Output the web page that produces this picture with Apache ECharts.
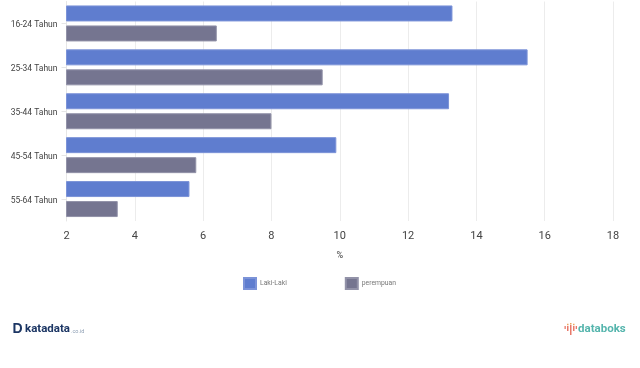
<!DOCTYPE html>
<html><head><meta charset="utf-8">
<style>html,body{margin:0;padding:0;background:#fff}#c{width:640px;height:368px}</style>
<script src="https://cdn.jsdelivr.net/npm/echarts@6/dist/echarts.min.js"></script>
</head><body><div id="c"></div>
<script>
const categories = ['16-24 Tahun','25-34 Tahun','35-44 Tahun','45-54 Tahun','55-64 Tahun'];
const lakiLaki = [13.3,15.5,13.2,9.9,5.6];
const perempuan = [6.4,9.5,8.0,5.8,3.5];
const xTicks = {min:2,max:18,interval:2};
const chart = echarts.init(document.getElementById('c'),null,{renderer:'canvas'});
const blue='#5f7dcf', grey='#757590';
const coral='#e8796a', amber='#eda65f';
chart.setOption({
  animation:false,
  textStyle:{fontFamily:'Roboto'},
  grid:{left:66.5,right:27,top:1.5,bottom:147,containLabel:false},
  legend:{left:243,top:277,padding:0,itemWidth:12,itemHeight:11,itemGap:58,icon:'rect',
    textStyle:{fontFamily:'Roboto',fontSize:6.8,color:'#777',padding:[0,0,0,-1]},
    data:[{name:'Laki-Laki'},{name:'perempuan'}]},
  xAxis:{type:'value',min:xTicks.min,max:xTicks.max,interval:xTicks.interval,
    name:'%',nameLocation:'middle',nameGap:30,nameTextStyle:{fontFamily:'Roboto',fontSize:9,fontWeight:500,color:'#555'},
    axisLine:{show:false},axisTick:{show:false},
    axisLabel:{fontFamily:'Roboto',fontSize:11,color:'#444',margin:10},
    splitLine:{show:true,lineStyle:{color:'#ececec',width:1}}},
  yAxis:{type:'category',inverse:true,data:categories,
    axisLine:{show:true,lineStyle:{color:'#e6e6e6'}},
    axisTick:{show:true,length:5,alignWithLabel:true,lineStyle:{color:'#e6e6e6'}},
    axisLabel:{fontFamily:'Roboto',fontSize:8.5,color:'#444',margin:9,verticalAlign:'top',lineHeight:3}},
  series:[
    {name:'Laki-Laki',type:'bar',data:lakiLaki,barWidth:16,barGap:'25%',
     itemStyle:{color:blue,borderColor:'#7c93d8',borderWidth:1,opacity:1}},
    {name:'perempuan',type:'bar',data:perempuan,barWidth:16,
     itemStyle:{color:grey,borderColor:'#9292a8',borderWidth:1,opacity:1}}
  ],
  graphic:[
    {type:'text',left:12.5,top:322,style:{text:'D',font:'900 14px "Liberation Sans"',fill:'#1c3664'}},
    {type:'text',left:25,top:323,style:{text:'katadata',font:'700 11.5px Roboto',fill:'#1c3664'}},
    {type:'text',left:71,top:328.5,style:{text:'.co.id',font:'5.5px Roboto',fill:'#8fa0b5'}},
    {type:'rect',shape:{x:570,y:325,width:1.5,height:10},style:{fill:coral}},
    {type:'rect',shape:{x:567,y:326,width:1.5,height:5},style:{fill:coral}},
    {type:'rect',shape:{x:573,y:326,width:1.5,height:5},style:{fill:coral}},
    {type:'rect',shape:{x:564.5,y:326,width:1.3,height:3},style:{fill:coral}},
    {type:'rect',shape:{x:575.7,y:326,width:1.3,height:3},style:{fill:coral}},
    {type:'rect',shape:{x:570,y:323,width:1.5,height:1.5},style:{fill:amber}},
    {type:'rect',shape:{x:567,y:323.7,width:1.5,height:1.5},style:{fill:amber}},
    {type:'rect',shape:{x:573,y:323.7,width:1.5,height:1.5},style:{fill:amber}},
    {type:'text',left:578,top:323,style:{text:'databoks',font:'700 11.5px Roboto',fill:'#55b5ad'}}
  ]
});
</script></body></html>
